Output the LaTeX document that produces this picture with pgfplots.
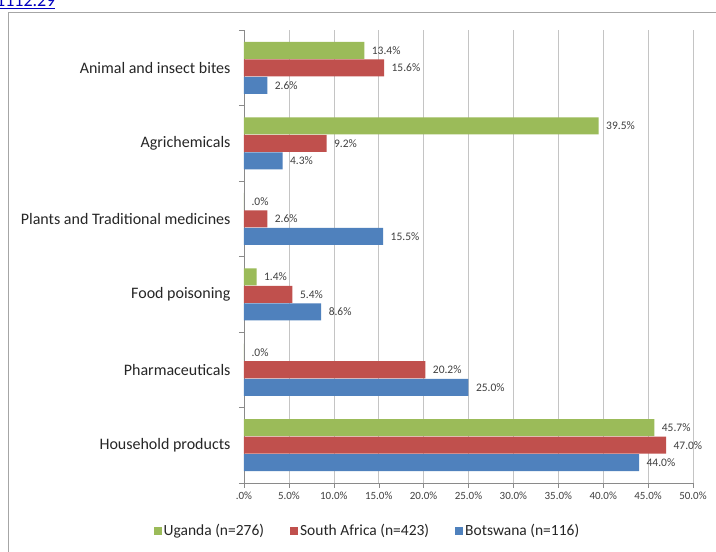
\documentclass[border=0pt]{standalone}
\usepackage{pgfplots}
\pgfplotsset{compat=1.18}
\usepackage{fontspec}
\setmainfont{Carlito}
\definecolor{ug}{HTML}{9BBB59}
\definecolor{sa}{HTML}{C0504D}
\definecolor{bw}{HTML}{4F81BD}
\definecolor{gridc}{HTML}{C4C4C4}
\definecolor{axc}{HTML}{8A8A8A}
\definecolor{lab}{HTML}{404040}
\begin{document}
\begin{tikzpicture}[x=1pt,y=1pt]
\useasboundingbox (0,0) rectangle (716,552);
\clip (0,0) rectangle (716,552);
\fill[white] (0,0) rectangle (716,552);
\draw[gray!70, line width=1pt] (8.5,-5) rectangle (722,539.5);
\node[anchor=base west, text=blue!75!black, font=\fontsize{18}{20}\selectfont, inner sep=0pt] at (-4,545) {\underline{1112.29}};
\coordinate (A) at (244pt,69pt);
\begin{axis}[
  at={(A)}, anchor=south west, scale only axis,
  width=449pt, height=453pt,
  xbar, bar width=17pt,
  xmin=0, xmax=50, ymin=-0.5, ymax=5.5,
  axis lines=left, axis line style={-, draw=axc},
  xtick={0,5,10,15,20,25,30,35,40,45,50},
  xticklabels={.0\%,5.0\%,10.0\%,15.0\%,20.0\%,25.0\%,30.0\%,35.0\%,40.0\%,45.0\%,50.0\%},
  ytick={-0.5,0.5,1.5,2.5,3.5,4.5,5.5},
  yticklabels={Household products,Pharmaceuticals,Food poisoning,Plants and Traditional medicines,Agrichemicals,Animal and insect bites,{}},
  yticklabel style={yshift=37.75pt, xshift=-5pt, font=\fontsize{16}{18}\selectfont, text=black!85},
  xticklabel style={font=\fontsize{11}{13}\selectfont, text=lab},
  tick align=outside, major tick length=5pt,
  tick style={draw=axc},
  xmajorgrids, major grid style={draw=gridc},
  point meta=explicit symbolic,
  nodes near coords,
  every node near coord/.append style={anchor=west, xshift=4pt, font=\fontsize{11.5}{13}\selectfont, text=lab},
  legend columns=3,
  legend style={at={(rel axis cs:0.275,-0.106)}, anchor=center, draw=none, fill=none,
    font=\fontsize{15.5}{17}\selectfont, text=black!85,
    /tikz/every even column/.append style={column sep=24pt}},
  legend image code/.code={\fill[#1] (0pt,-4pt) rectangle (8pt,4pt);},
]
\addplot[fill=ug, draw=none, bar shift=17.5pt] coordinates {
 (45.7,0) [45.7\%]
 (0,1) [.0\%]
 (1.4,2) [1.4\%]
 (0,3) [.0\%]
 (39.5,4) [39.5\%]
 (13.4,5) [13.4\%]
};
\addplot[fill=sa, draw=none, bar shift=0pt] coordinates {
 (47.0,0) [47.0\%]
 (20.2,1) [20.2\%]
 (5.4,2) [5.4\%]
 (2.6,3) [2.6\%]
 (9.2,4) [9.2\%]
 (15.6,5) [15.6\%]
};
\addplot[fill=bw, draw=none, bar shift=-17.5pt] coordinates {
 (44.0,0) [44.0\%]
 (25.0,1) [25.0\%]
 (8.6,2) [8.6\%]
 (15.5,3) [15.5\%]
 (4.3,4) [4.3\%]
 (2.6,5) [2.6\%]
};
\legend{Uganda (n=276),South Africa (n=423),Botswana (n=116)}
\end{axis}
\end{tikzpicture}
\end{document}
